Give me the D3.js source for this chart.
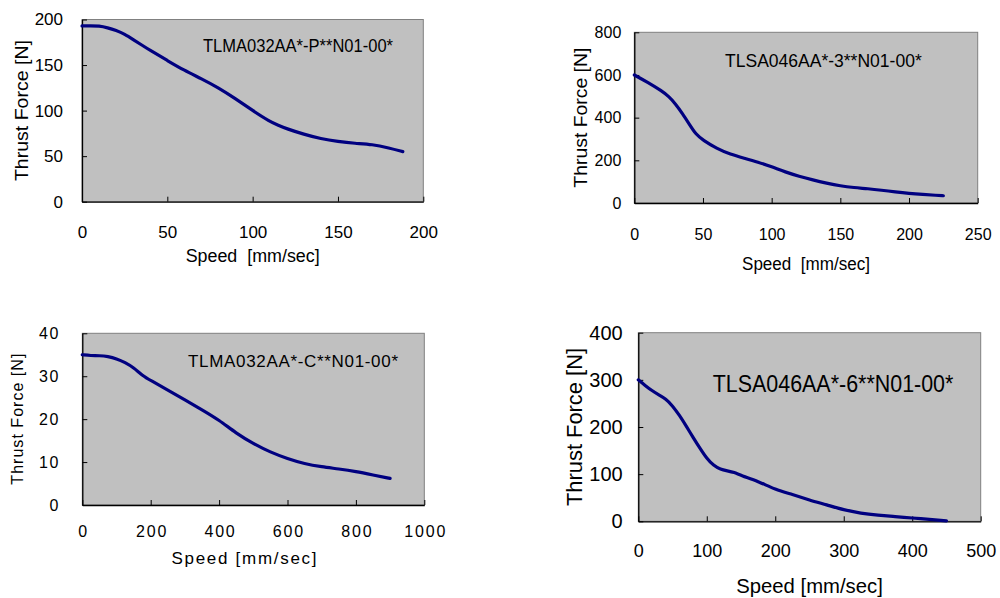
<!DOCTYPE html>
<html>
<head>
<meta charset="utf-8">
<script src="https://cdn.jsdelivr.net/npm/d3@7"></script>
<style>
  body { margin: 0; background: #fff; }
  svg { display: block; font-family: "Liberation Sans", Arial, sans-serif; }
  text { white-space: pre; }
</style>
</head>
<body>
<svg id="chart" width="1000" height="598"></svg>
<script>
// model names and axis titles
const modelNames = ['TLMA032AA*-P**N01-00*', 'TLSA046AA*-3**N01-00*', 'TLMA032AA*-C**N01-00*', 'TLSA046AA*-6**N01-00*'];
const speedTitles = ['Speed  [mm/sec]', 'Speed  [mm/sec]', 'Speed [mm/sec]', 'Speed [mm/sec]'];
const forceTitle = 'Thrust Force [N]';

// TLMA032AA*-P
const pSpeed = [0, 5, 10, 15, 20, 25, 30, 35, 40, 50, 60, 70, 80, 90, 100, 110, 115, 120, 130, 140, 150, 160, 170, 180, 188];
const pForce = [193, 193, 193, 191, 188, 184, 178, 172, 166, 155, 144, 135, 125, 113, 100, 88, 84, 80, 74, 69, 66, 64, 63, 59, 55];
const pXTicks = [0, 50, 100, 150, 200];
const pYTicks = [0, 50, 100, 150, 200];

// TLSA046AA*-3
const s3Speed = [0, 10, 20, 25, 30, 35, 40, 45, 50, 60, 70, 80, 90, 100, 110, 120, 130, 140, 150, 160, 170, 180, 190, 200, 210, 220, 225];
const s3Force = [600, 565, 525, 500, 465, 420, 370, 320, 295, 255, 228, 210, 192, 170, 145, 125, 108, 93, 80, 72, 67, 60, 52, 45, 40, 36, 34];
const s3XTicks = [0, 50, 100, 150, 200, 250];
const s3YTicks = [0, 200, 400, 600, 800];

// TLMA032AA*-C
const cSpeed = [0, 25, 50, 75, 100, 125, 150, 175, 200, 250, 300, 350, 400, 450, 500, 550, 600, 650, 700, 750, 800, 850, 900];
const cForce = [35, 34.8, 34.8, 34.6, 34.1, 33.2, 32, 30.2, 29, 26.8, 24.5, 22.2, 19.8, 16.7, 14.3, 12.3, 10.8, 9.6, 8.9, 8.4, 7.8, 7.0, 6.2];
const cXTicks = [0, 200, 400, 600, 800, 1000];
const cYTicks = [0, 10, 20, 30, 40];

// TLSA046AA*-6
const s6Speed = [0, 10, 20, 30, 40, 50, 60, 70, 80, 90, 100, 110, 120, 130, 140, 150, 175, 200, 225, 250, 275, 300, 325, 350, 375, 400, 425, 450];
const s6Force = [300, 288, 277, 268, 260, 245, 225, 202, 178, 155, 133, 118, 110, 107, 104, 97, 85, 67, 57, 45, 35, 24, 17, 13, 10, 7, 4, 1];
const s6XTicks = [0, 100, 200, 300, 400, 500];
const s6YTicks = [0, 100, 200, 300, 400];

const panels = [
    { speed: pSpeed, force: pForce, xTicks: pXTicks, yTicks: pYTicks,
      box: [82, 19.5, 423.3, 201.7], tickFont: 17, xTickBase: 36, yTickGap: 19,
      xTitle: { font: 18, base: 262, len: 134 }, yTitle: { font: 19, cx: 21.5, len: 141 },
      model: { font: 19, x: 203, base: 51.7, len: 190 }, spacing: 0 },
    { speed: s3Speed, force: s3Force, xTicks: s3XTicks, yTicks: s3YTicks,
      box: [634.3, 32.3, 977.7, 203], tickFont: 16, xTickBase: 37, yTickGap: 13,
      xTitle: { font: 18, base: 270, len: 128 }, yTitle: { font: 18, cx: 580.8, len: 140 },
      model: { font: 18, x: 725, base: 66.7, len: 196.7 }, spacing: 0 },
    { speed: cSpeed, force: cForce, xTicks: cXTicks, yTicks: cYTicks,
      box: [82.3, 333.3, 424.3, 505], tickFont: 16, xTickBase: 31.7, yTickGap: 22,
      xTitle: { font: 17, base: 563.5, len: 145, cx: 244 }, yTitle: { font: 16, cx: 17.5, len: 131 },
      model: { font: 17, x: 188, base: 366.7, len: 210 }, spacing: 1.8 },
    { speed: s6Speed, force: s6Force, xTicks: s6XTicks, yTicks: s6YTicks,
      box: [638.3, 332.7, 980.7, 521.3], tickFont: 18, yTickFont: 20, xTickBase: 35.4, yTickGap: 15.6,
      xTitle: { font: 20, base: 592.5, len: 146.7 }, yTitle: { font: 22, cx: 574, len: 158 },
      model: { font: 24, x: 712.7, base: 391.7, len: 240.7 }, spacing: 0 }
];

const svg = d3.select('#chart');

panels.forEach(function(p, i) {
    const [x0, y0, x1, y1] = p.box;
    const x = d3.scaleLinear()
        .domain([p.xTicks[0], p.xTicks[p.xTicks.length - 1]])
        .range([x0, x1]);
    const y = d3.scaleLinear()
        .domain([p.yTicks[0], p.yTicks[p.yTicks.length - 1]])
        .range([y1, y0]);

    svg.append('rect')
        .attr('x', x0).attr('y', y0)
        .attr('width', x1 - x0).attr('height', y1 - y0)
        .attr('fill', '#c0c0c0')
        .attr('stroke', '#808080')
        .attr('stroke-width', 1);

    const xFont = p.tickFont;
    const xAxis = svg.append('g')
        .attr('transform', 'translate(0,' + y1 + ')')
        .call(d3.axisBottom(x).tickValues(p.xTicks).tickFormat(d3.format('d'))
            .tickSizeInner(-5).tickSizeOuter(0)
            .tickPadding(p.xTickBase - 0.71 * xFont));
    const yFont = p.yTickFont || p.tickFont;
    const yAxis = svg.append('g')
        .attr('transform', 'translate(' + x0 + ',0)')
        .call(d3.axisLeft(y).tickValues(p.yTicks).tickFormat(d3.format('d'))
            .tickSizeInner(-5).tickSizeOuter(0)
            .tickPadding(p.yTickGap));

    [xAxis, yAxis].forEach(function(a) {
        a.attr('font-family', null).attr('font-size', null);
        a.select('.domain').attr('stroke', '#000').attr('stroke-width', 1.3);
        a.selectAll('.tick line').attr('stroke', '#000').attr('stroke-width', 1);
        a.selectAll('.tick text').attr('fill', '#000')
            .style('letter-spacing', p.spacing ? p.spacing + 'px' : null);
    });
    xAxis.selectAll('.tick text').style('font-size', xFont + 'px')
        .attr('dx', p.spacing ? p.spacing / 2 : null);
    yAxis.selectAll('.tick text').style('font-size', yFont + 'px');

    const line = d3.line()
        .x(function(d) { return x(d[0]); })
        .y(function(d) { return y(d[1]); })
        .curve(d3.curveBasis);
    svg.append('path')
        .datum(d3.zip(p.speed, p.force))
        .attr('d', line)
        .attr('fill', 'none')
        .attr('stroke', '#000080')
        .attr('stroke-width', 3.2)
        .attr('stroke-linejoin', 'round')
        .attr('stroke-linecap', 'round');

    const adjust = p.spacing ? 'spacing' : 'spacingAndGlyphs';

    svg.append('text')
        .attr('x', p.xTitle.cx || (x0 + x1) / 2)
        .attr('y', p.xTitle.base)
        .attr('text-anchor', 'middle')
        .style('font-size', p.xTitle.font + 'px')
        .attr('textLength', p.xTitle.len)
        .attr('lengthAdjust', adjust)
        .text(speedTitles[i]);

    svg.append('text')
        .attr('transform', 'translate(' + (p.yTitle.cx + 0.36 * p.yTitle.font) + ',' + ((y0 + y1) / 2) + ') rotate(-90)')
        .attr('text-anchor', 'middle')
        .style('font-size', p.yTitle.font + 'px')
        .attr('textLength', p.yTitle.len)
        .attr('lengthAdjust', adjust)
        .text(forceTitle);

    svg.append('text')
        .attr('x', p.model.x)
        .attr('y', p.model.base)
        .style('font-size', p.model.font + 'px')
        .attr('textLength', p.model.len)
        .attr('lengthAdjust', adjust)
        .text(modelNames[i]);
});
</script>
</body>
</html>
